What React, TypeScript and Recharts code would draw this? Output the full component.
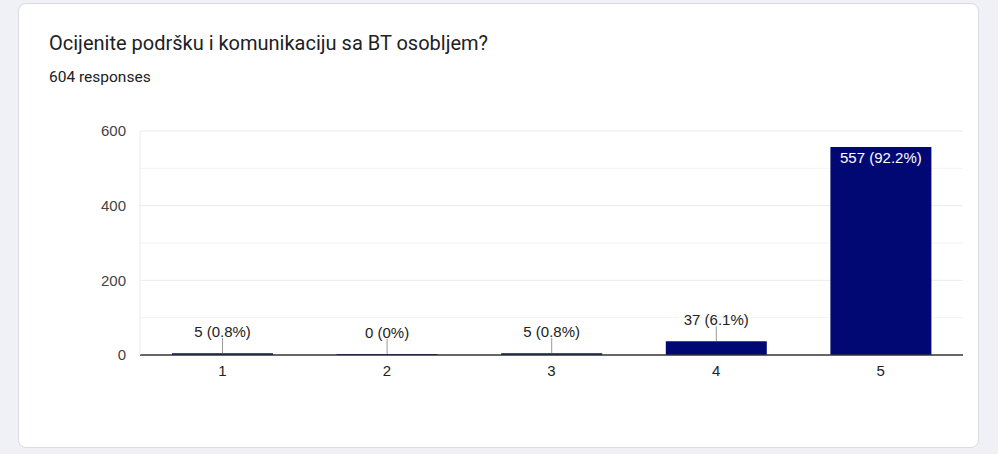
import { BarChart, Bar, XAxis, YAxis, CartesianGrid, LabelList } from "recharts";

const categories = ["1", "2", "3", "4", "5"];
const counts = [5, 0, 5, 37, 557];
const totalResponses = 604;
const yTicks = [0, 200, 400, 600];
const majorGrid = [200, 400, 600];
const minorGrid = [100, 300, 500];

const data = categories.map((rating, i) => ({ rating, count: counts[i] }));

const BAR_COLOR = "#020873";
const AXIS_FONT = "'Liberation Sans', Arial, sans-serif";

function pct(v: number) {
  return Number(((v / totalResponses) * 100).toFixed(1)) + "%";
}

function BarLabel(props: any) {
  const { x, y, width, height, value } = props;
  const cx = x + width / 2;
  const text = `${value} (${pct(Number(value))})`;
  if (height > 40) {
    return (
      <text x={cx} y={y + 10} textAnchor="middle" dominantBaseline="central" fill="#fff" fontSize={15} fontFamily={AXIS_FONT}>
        {text}
      </text>
    );
  }
  const top = y + height - Math.max(height, 0);
  return (
    <g>
      <line x1={cx} x2={cx} y1={top - 15} y2={top} stroke="#999" strokeWidth={1} />
      <text x={cx} y={top - 22} textAnchor="middle" dominantBaseline="central" fill="#222" fontSize={15} fontFamily={AXIS_FONT}>
        {text}
      </text>
    </g>
  );
}

export default function App() {
  return (
    <div style={{ position: "fixed", inset: 0, background: "#eff1f7" }}>
      <div
        style={{
          position: "absolute",
          left: 18,
          top: 3,
          width: 959,
          height: 443,
          background: "#fff",
          border: "1px solid #dadce0",
          borderRadius: 8,
        }}
      />
      <div
        style={{
          position: "absolute",
          left: 49,
          top: 31,
          fontFamily: "Roboto, sans-serif",
          fontSize: 20,
          color: "#202124",
          whiteSpace: "nowrap",
        }}
      >
        Ocijenite podršku i komunikaciju sa BT osobljem?
      </div>
      <div
        style={{
          position: "absolute",
          left: 49,
          top: 68,
          fontFamily: "Roboto, sans-serif",
          fontSize: 15.5,
          color: "#202124",
          whiteSpace: "nowrap",
        }}
      >
        604 responses
      </div>
      <div style={{ position: "absolute", left: 0, top: 0 }}>
        <BarChart
          width={998}
          height={454}
          data={data}
          margin={{ top: 131, right: 35, bottom: 69, left: 80 }}
        >
          <CartesianGrid vertical={false} horizontalValues={minorGrid} stroke="#f4f4f4" />
          <CartesianGrid vertical={false} horizontalValues={majorGrid} stroke="#ebebeb" />
          <XAxis
            dataKey="rating"
            height={30}
            axisLine={{ stroke: "#333", strokeWidth: 1.5 }}
            tickLine={false}
            tickMargin={4}
            tick={{ fontSize: 15, fill: "#222", fontFamily: AXIS_FONT }}
          />
          <YAxis
            width={60}
            domain={[0, 600]}
            ticks={yTicks}
            axisLine={{ stroke: "#ebebeb" }}
            tickLine={false}
            tickSize={0}
            tickMargin={14}
            tick={{ fontSize: 15, fill: "#444", fontFamily: AXIS_FONT }}
          />
          <Bar dataKey="count" fill={BAR_COLOR} barSize={101} minPointSize={1} isAnimationActive={false}>
            <LabelList dataKey="count" content={<BarLabel />} />
          </Bar>
        </BarChart>
      </div>
    </div>
  );
}
